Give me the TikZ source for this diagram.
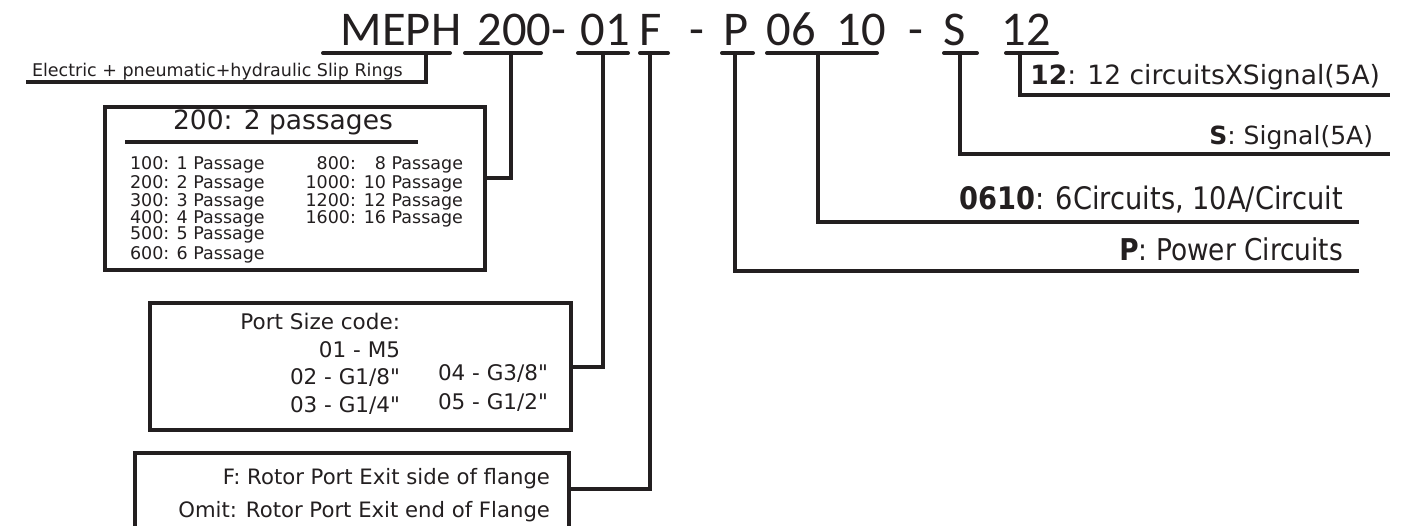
\documentclass[tikz,border=0pt]{standalone}
\usepackage{fontspec}
\setmainfont{DejaVu Sans}[Ligatures=TeXOff]
\newfontfamily\titlefont{Carlito}
\newfontfamily\narrowfont[FakeStretch=0.88,Ligatures=TeXOff]{DejaVu Sans}
\definecolor{ink}{RGB}{35,31,32}
\begin{document}
\begin{tikzpicture}[x=1pt,y=-1pt,
  every node/.style={inner sep=0pt, outer sep=0pt, text=ink},
  ttl/.style={font=\titlefont\fontsize{48.5}{48}\selectfont, anchor=base},
  uline/.style={line width=4pt, line cap=round, draw=ink},
  conn/.style={line width=3.2pt, draw=ink, line join=miter},
  frame/.style={line width=3.5pt, draw=ink, line join=miter},
  smalltxt/.style={font=\fontsize{17.5}{18}\selectfont},
  midtxt/.style={font=\fontsize{21.5}{22}\selectfont},
  boxthree/.style={font=\fontsize{21.2}{22}\selectfont, anchor=base east},
  righttxt/.style={font=\fontsize{25}{26}\selectfont, anchor=base east},
  narrowtxt/.style={font=\narrowfont\fontsize{30}{31}\selectfont, anchor=base east}]
\useasboundingbox (0,0) rectangle (1418,525);
\fill[white] (0,0) rectangle (1418,525);

% title
\node[ttl] (tMEPH) at (401,45) {MEPH};
\node[ttl] (t200) at (522,45) {200-};
\node[ttl] (t01) at (605,45) {01};
\node[ttl] (tF) at (651,45) {F};
\node[ttl] (td1) at (697,45) {-};
\node[ttl] (tP) at (736,45) {P};
\node[ttl] (t06) at (791,45) {06};
\node[ttl] (t10) at (861,45) {10};
\node[ttl] (td2) at (916,45) {-};
\node[ttl] (tS) at (955,45) {S};
\node[ttl] (t12) at (1026,45) {12};

% underlines
\draw[uline] (323,53) -- (450,53);
\draw[uline] (465,53) -- (541,53);
\draw[uline] (578,53) -- (628,53);
\draw[uline] (640,53) -- (668,53);
\draw[uline] (722,53) -- (753,53);
\draw[uline] (767,53) -- (877,53);
\draw[uline] (944,53) -- (977,53);
\draw[uline] (1006,53) -- (1057,53);

% stem coordinates
\coordinate (sMEPH) at (426,53);
\coordinate (s200) at (511,53);
\coordinate (s01) at (603,53);
\coordinate (sF) at (650,53);
\coordinate (sP) at (735,53);
\coordinate (s0610) at (818,53);
\coordinate (sS) at (960,53);
\coordinate (s12) at (1020,53);

% MEPH
\node[smalltxt, anchor=base west] (eText) at (32,76) {Electric + pneumatic+hydraulic Slip Rings};
\coordinate (eEnd) at (26,82);
\draw[conn] (sMEPH) |- (eEnd);

% box 1
\draw[frame] (105,107) rectangle (485,270);
\coordinate (b1in) at (485,178);
\node[font=\fontsize{26.5}{27}\selectfont, anchor=base] (b1title) at (283,129) {200: 2 passages};
\draw[line width=3.5pt, draw=ink] (125,142) -- (418,142);
\node[smalltxt, anchor=base west] (p100) at (130,169.8) {100: 1 Passage};
\node[smalltxt, anchor=base west] (p200) at (130,188.2) {200: 2 Passage};
\node[smalltxt, anchor=base west] (p300) at (130,206.5) {300: 3 Passage};
\node[smalltxt, anchor=base west] (p400) at (130,223.2) {400: 4 Passage};
\node[smalltxt, anchor=base west] (p500) at (130,239.8) {500: 5 Passage};
\node[smalltxt, anchor=base west] (p600) at (130,259.8) {600: 6 Passage};
\node[smalltxt, anchor=base east] (p800) at (463,169.8) {\makebox[3em][r]{800:} \makebox[5.8em][r]{8 Passage}};
\node[smalltxt, anchor=base east] (p1000) at (463,188.2) {\makebox[3em][r]{1000:} \makebox[5.8em][r]{10 Passage}};
\node[smalltxt, anchor=base east] (p1200) at (463,206.5) {\makebox[3em][r]{1200:} \makebox[5.8em][r]{12 Passage}};
\node[smalltxt, anchor=base east] (p1600) at (463,223.2) {\makebox[3em][r]{1600:} \makebox[5.8em][r]{16 Passage}};
\draw[conn] (s200) |- (b1in);

% box 2
\draw[frame] (150,303) rectangle (571,430);
\coordinate (b2in) at (571,367);
\node[midtxt, anchor=base east] (psc) at (400,329.5) {Port Size code:};
\node[midtxt, anchor=base east] (p01) at (400,357.5) {01 - M5};
\node[midtxt, anchor=base east] (p02) at (400,384.5) {02 - G1/8"};
\node[midtxt, anchor=base east] (p03) at (400,412.5) {03 - G1/4"};
\node[midtxt, anchor=base east] (p04) at (548,380.5) {04 - G3/8"};
\node[midtxt, anchor=base east] (p05) at (548,409.5) {05 - G1/2"};
\draw[conn] (s01) |- (b2in);

% box 3 (open at the bottom)
\draw[frame] (135,526) -- (135,453) -- (569,453) -- (569,526);
\coordinate (b3in) at (569,489);
\node[boxthree] (fside) at (550,484) {F: Rotor Port Exit side of flange};
\node[boxthree] (fomit) at (550,517) {Omit: Rotor Port Exit end of Flange};
\draw[conn] (sF) |- (b3in);

% right side
\coordinate (eP) at (1359,271);
\coordinate (e0610) at (1359,222);
\coordinate (eS) at (1390,154);
\coordinate (e12) at (1390,95);
\draw[conn] (sP) |- (eP);
\draw[conn] (s0610) |- (e0610);
\draw[conn] (sS) |- (eS);
\draw[conn] (s12) |- (e12);
\node[narrowtxt] (lP) at (1343,260) {\textbf{P}: Power Circuits};
\node[narrowtxt, font=\narrowfont\fontsize{31}{32}\selectfont] (l0610) at (1343,209) {\textbf{0610}: 6Circuits, 10A/Circuit};
\node[righttxt] (lS) at (1373,144) {\textbf{S}: Signal(5A)};
\node[righttxt, font=\fontsize{26.5}{27}\selectfont] (l12) at (1380,84) {\textbf{12}: 12 circuitsXSignal(5A)};
\end{tikzpicture}
\end{document}
